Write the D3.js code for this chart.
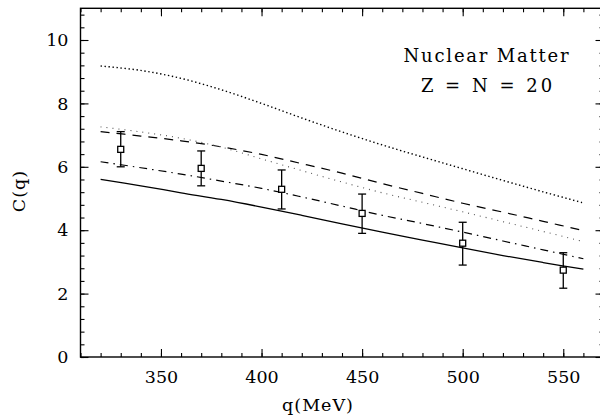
<!DOCTYPE html>
<html>
<head>
<meta charset="utf-8">
<script src="https://cdn.jsdelivr.net/npm/d3@7"></script>
<style>
  html, body { margin: 0; padding: 0; background: #fff; }
  svg { display: block; }
</style>
</head>
<body>
<div id="chart"></div>
<script>
// momentum grid shared by all theory curves
const qGrid = [320, 340, 360, 380, 400, 420, 440, 460, 480, 500, 520, 540, 560];

// theory curves
const dottedTop  = [9.18, 9.04, 8.79, 8.43, 8.00, 7.54, 7.10, 6.69, 6.31, 5.94, 5.57, 5.21, 4.86];
const dashed     = [7.11, 6.97, 6.82, 6.63, 6.39, 6.10, 5.80, 5.47, 5.16, 4.85, 4.57, 4.28, 3.99];
const dottedFine = [7.26, 7.10, 6.90, 6.62, 6.25, 5.88, 5.52, 5.18, 4.88, 4.58, 4.27, 3.96, 3.64];
const dashDot    = [6.16, 5.97, 5.77, 5.55, 5.32, 5.05, 4.76, 4.47, 4.21, 3.94, 3.66, 3.38, 3.10];
const solid      = [5.60, 5.40, 5.18, 4.97, 4.73, 4.47, 4.20, 3.94, 3.69, 3.44, 3.20, 2.98, 2.77];

// data points with error bars
const dataQ   = [330, 370, 410, 450, 500, 550];
const dataC   = [6.55, 5.95, 5.29, 4.53, 3.59, 2.74];
const dataLow = [6.00, 5.40, 4.67, 3.90, 2.90, 2.17];
const dataHigh= [7.11, 6.50, 5.90, 5.14, 4.25, 3.29];

// ticks
const xMajor = [350, 400, 450, 500, 550];
const xMinor = d3.range(310, 571, 10);
const yMajor = [0, 2, 4, 6, 8, 10];
const yMinor = d3.range(0, 11.01, 0.4);

const width = 600;
const height = 418;
const marginTop = 8.3;
const marginBottom = 61;
const marginLeft = 80.5;
const plotRight = 603.5; // frame runs just past the picture edge

const font = "'DejaVu Serif', serif";

const x = d3.scaleLinear().domain([310, 570]).range([marginLeft, plotRight]);
const y = d3.scaleLinear().domain([0, 11]).range([height - marginBottom, marginTop]);

const svg = d3.select("#chart").append("svg")
    .attr("width", width)
    .attr("height", height)
    .attr("viewBox", [0, 0, width, height]);

// frame
svg.append("rect")
    .attr("x", x(310)).attr("y", y(11))
    .attr("width", x(570) - x(310)).attr("height", y(0) - y(11))
    .attr("fill", "none").attr("stroke", "#000").attr("stroke-width", 1.4);

function styleAxis(g) {
    g.select(".domain").remove();
    g.selectAll("line").attr("stroke", "#000").attr("stroke-width", 1.1);
    g.selectAll("text").attr("font-family", font).attr("font-size", 17.5).attr("fill", "#000");
}

// bottom axis (ticks point inward)
svg.append("g")
    .attr("transform", `translate(0,${y(0)})`)
    .call(d3.axisBottom(x).tickValues(xMinor).tickSize(-4).tickFormat(""))
    .call(styleAxis);
svg.append("g")
    .attr("transform", `translate(0,${y(0)})`)
    .call(d3.axisBottom(x).tickValues(xMajor).tickSize(-8).tickPadding(14).tickFormat(d3.format("d")))
    .call(styleAxis);

// top axis
svg.append("g")
    .attr("transform", `translate(0,${y(11)})`)
    .call(d3.axisTop(x).tickValues(xMinor).tickSize(-4).tickFormat(""))
    .call(styleAxis);
svg.append("g")
    .attr("transform", `translate(0,${y(11)})`)
    .call(d3.axisTop(x).tickValues(xMajor).tickSize(-8).tickFormat(""))
    .call(styleAxis);

// left axis
svg.append("g")
    .attr("transform", `translate(${marginLeft},0)`)
    .call(d3.axisLeft(y).tickValues(yMinor).tickSize(-4).tickFormat(""))
    .call(styleAxis);
svg.append("g")
    .attr("transform", `translate(${marginLeft},0)`)
    .call(d3.axisLeft(y).tickValues(yMajor).tickSize(-8).tickPadding(12).tickFormat(d3.format("d")))
    .call(styleAxis);

// right axis
svg.append("g")
    .attr("transform", `translate(${plotRight},0)`)
    .call(d3.axisRight(y).tickValues(yMinor).tickSize(-4).tickFormat(""))
    .call(styleAxis);
svg.append("g")
    .attr("transform", `translate(${plotRight},0)`)
    .call(d3.axisRight(y).tickValues(yMajor).tickSize(-8).tickFormat(""))
    .call(styleAxis);

// theory curves
const line = d3.line()
    .x((d, i) => x(qGrid[i]))
    .y(d => y(d))
    .curve(d3.curveCatmullRom);

const curves = [
    { values: dottedTop,  dash: "1.4,2.6",        width: 1.4, color: "#000" },
    { values: dashed,     dash: "9,7",            width: 1.2, color: "#000" },
    { values: dottedFine, dash: "1,5",            width: 1.1, color: "#555" },
    { values: dashDot,    dash: "8,5,1.5,5",      width: 1.2, color: "#000" },
    { values: solid,      dash: null,             width: 1.3, color: "#000" }
];

svg.append("g")
    .selectAll("path")
    .data(curves)
    .join("path")
    .attr("d", d => line(d.values))
    .attr("fill", "none")
    .attr("stroke", d => d.color)
    .attr("stroke-width", d => d.width)
    .attr("stroke-dasharray", d => d.dash);

// error bars + open squares
const points = dataQ.map((q, i) => ({ q, c: dataC[i], lo: dataLow[i], hi: dataHigh[i] }));
const pts = svg.append("g")
    .attr("stroke", "#000")
    .attr("stroke-width", 1.3)
    .attr("fill", "none");

pts.selectAll(".bar").data(points).join("line")
    .attr("x1", d => x(d.q)).attr("x2", d => x(d.q))
    .attr("y1", d => y(d.lo)).attr("y2", d => y(d.hi));
pts.selectAll(".capLo").data(points).join("line")
    .attr("x1", d => x(d.q) - 4).attr("x2", d => x(d.q) + 4)
    .attr("y1", d => y(d.lo)).attr("y2", d => y(d.lo));
pts.selectAll(".capHi").data(points).join("line")
    .attr("x1", d => x(d.q) - 4).attr("x2", d => x(d.q) + 4)
    .attr("y1", d => y(d.hi)).attr("y2", d => y(d.hi));
pts.selectAll("rect").data(points).join("rect")
    .attr("x", d => x(d.q) - 3).attr("y", d => y(d.c) - 3)
    .attr("width", 6).attr("height", 6)
    .attr("fill", "#fff");

// axis titles
svg.append("text")
    .text("q(MeV)")
    .attr("x", 318).attr("y", 411)
    .attr("text-anchor", "middle")
    .attr("font-family", font).attr("font-size", 17.5)
    .attr("letter-spacing", 1);

svg.append("text")
    .text("C(q)")
    .attr("transform", "translate(25,191) rotate(-90)")
    .attr("text-anchor", "middle")
    .attr("font-family", font).attr("font-size", 17.5)
    .attr("letter-spacing", 1);

// annotation
svg.append("text")
    .text("Nuclear Matter")
    .attr("x", 487).attr("y", 62)
    .attr("text-anchor", "middle")
    .attr("font-family", font).attr("font-size", 18)
    .attr("letter-spacing", 1.8);

svg.append("text")
    .text("Z = N = 20")
    .attr("x", 488).attr("y", 92)
    .attr("text-anchor", "middle")
    .attr("font-family", font).attr("font-size", 18)
    .attr("letter-spacing", 3)
    .style("white-space", "pre");
</script>
</body>
</html>
